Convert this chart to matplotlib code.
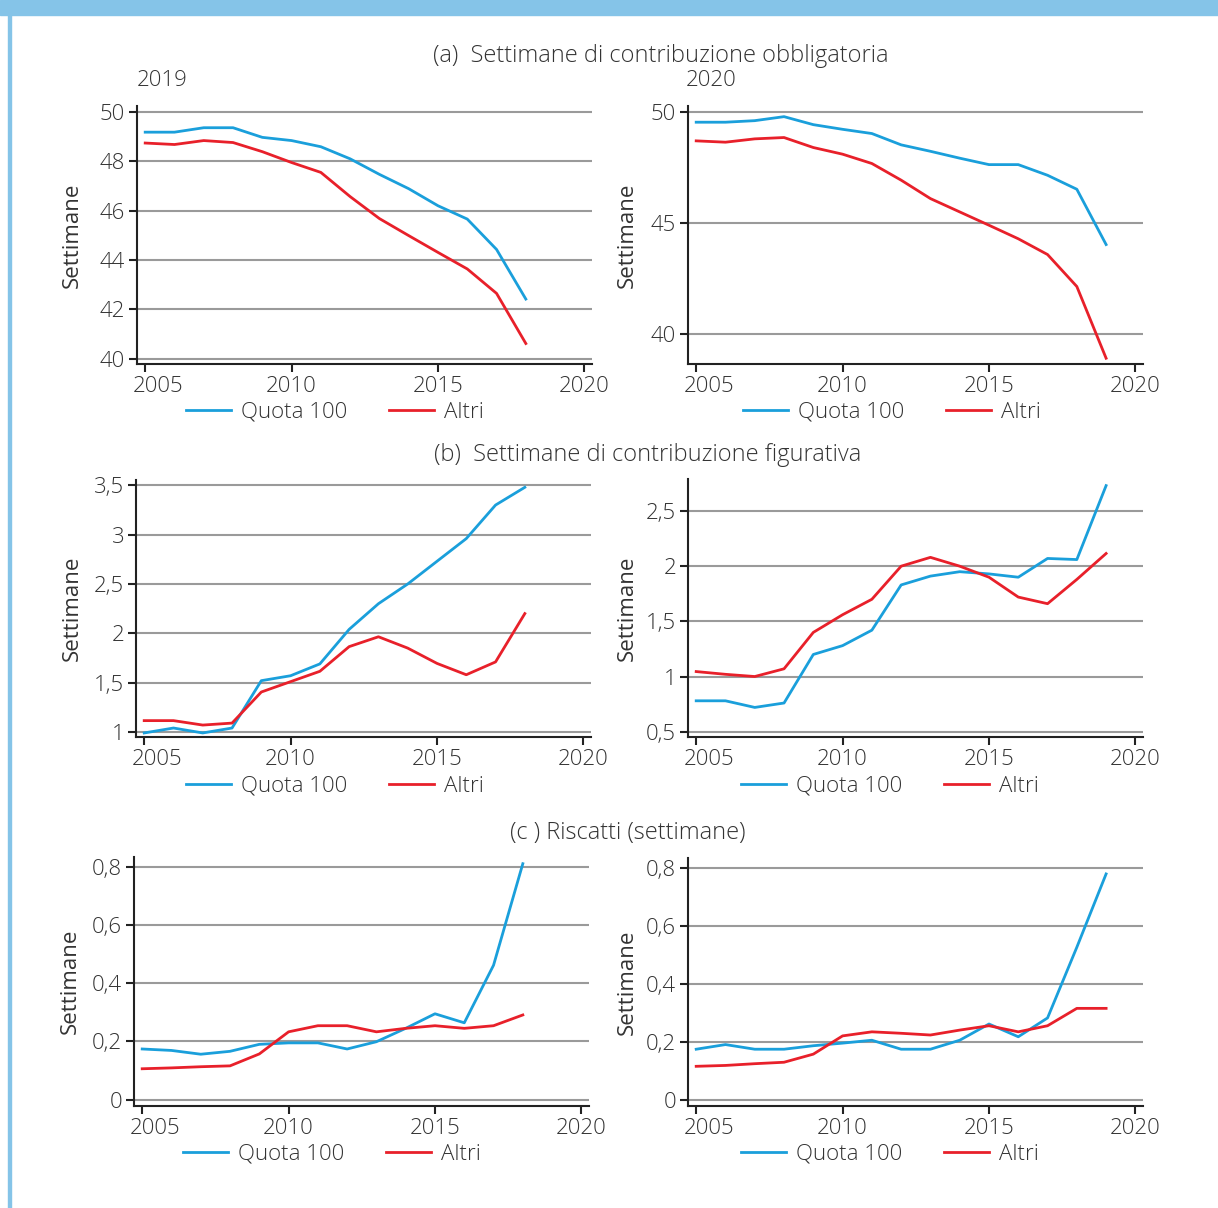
import matplotlib.pyplot as plt
import matplotlib.transforms as mtransforms
from matplotlib.patches import Rectangle

plt.rcParams["font.family"] = ["Open Sans", "DejaVu Sans"]
plt.rcParams["font.weight"] = "light"

BLUE = "#1a9fdb"
RED = "#e8202a"
TXT = "#333333"
GRID = "#9a9a9a"
FRAME = "#85c4e8"

years_19 = list(range(2005, 2019))
years_20 = list(range(2005, 2020))

# (a) contribuzione obbligatoria
obb_q100_19 = [49.18, 49.18, 49.36, 49.36, 48.97, 48.84, 48.59, 48.10, 47.47, 46.89, 46.20, 45.66, 44.43, 42.42]
obb_altri_19 = [48.74, 48.68, 48.84, 48.76, 48.39, 47.95, 47.55, 46.57, 45.68, 44.99, 44.31, 43.64, 42.65, 40.62]
obb_q100_20 = [49.54, 49.54, 49.61, 49.79, 49.43, 49.22, 49.03, 48.52, 48.23, 47.92, 47.63, 47.63, 47.15, 46.52, 44.03]
obb_altri_20 = [48.70, 48.64, 48.79, 48.85, 48.40, 48.10, 47.68, 46.93, 46.10, 45.50, 44.90, 44.29, 43.58, 42.14, 38.91]

# (b) contribuzione figurativa
fig_q100_19 = [0.99, 1.04, 0.99, 1.04, 1.52, 1.57, 1.69, 2.04, 2.30, 2.50, 2.73, 2.96, 3.30, 3.48]
fig_altri_19 = [1.115, 1.115, 1.07, 1.09, 1.405, 1.51, 1.615, 1.865, 1.965, 1.85, 1.695, 1.58, 1.71, 2.20]
fig_q100_20 = [0.78, 0.78, 0.72, 0.76, 1.20, 1.28, 1.42, 1.83, 1.91, 1.95, 1.93, 1.90, 2.07, 2.06, 2.73]
fig_altri_20 = [1.045, 1.02, 1.00, 1.07, 1.40, 1.56, 1.70, 2.00, 2.08, 2.00, 1.90, 1.72, 1.66, 1.88, 2.115]

# (c) riscatti
ris_q100_19 = [0.174, 0.169, 0.156, 0.166, 0.19, 0.195, 0.195, 0.174, 0.199, 0.245, 0.295, 0.264, 0.462, 0.811]
ris_altri_19 = [0.106, 0.109, 0.113, 0.116, 0.157, 0.233, 0.254, 0.254, 0.233, 0.245, 0.254, 0.245, 0.254, 0.291]
ris_q100_20 = [0.174, 0.19, 0.174, 0.174, 0.186, 0.195, 0.205, 0.174, 0.174, 0.205, 0.261, 0.217, 0.282, 0.526, 0.779]
ris_altri_20 = [0.115, 0.118, 0.124, 0.129, 0.157, 0.22, 0.234, 0.229, 0.223, 0.24, 0.255, 0.234, 0.255, 0.315, 0.315]

xticks = [2005, 2010, 2015, 2020]
yt_obb_19 = [40, 42, 44, 46, 48, 50]
yl_obb_19 = ["40", "42", "44", "46", "48", "50"]
yt_obb_20 = [40, 45, 50]
yl_obb_20 = ["40", "45", "50"]
yt_fig_19 = [1, 1.5, 2, 2.5, 3, 3.5]
yl_fig_19 = ["1", "1,5", "2", "2,5", "3", "3,5"]
yt_fig_20 = [0.5, 1, 1.5, 2, 2.5]
yl_fig_20 = ["0,5", "1", "1,5", "2", "2,5"]
yt_ris = [0, 0.2, 0.4, 0.6, 0.8]
yl_ris = ["0", "0,2", "0,4", "0,6", "0,8"]

FS = 16
fig = plt.figure(figsize=(12.18, 12.08), dpi=100)
W, H = 1218, 1208

# frame: top bar and left rule
fig.patches.append(Rectangle((0, 1 - 15 / H), 1, 15 / H, transform=fig.transFigure, color=FRAME, zorder=0))
fig.patches.append(Rectangle((8 / W, 0), 3 / W, 1 - 15 / H, transform=fig.transFigure, color=FRAME, zorder=0))


def panel(left, top, bottom, years, q, a, yt, yl, ylim, leg_x, leg_y, ylab_x):
    width = 455
    ax = fig.add_axes([left / W, 1 - bottom / H, width / W, (bottom - top) / H])
    for v in yt:
        ax.axhline(v, color=GRID, linewidth=1.5, zorder=1)
    ax.plot(years, q, color=BLUE, linewidth=2.0, zorder=3, label="Quota 100")
    ax.plot(years, a, color=RED, linewidth=2.0, zorder=3, label="Altri")
    ax.set_xlim(2004.72, 2020.26)
    ax.set_ylim(*ylim)
    ax.set_xticks(xticks)
    ax.set_yticks(yt)
    ax.set_yticklabels(yl)
    for s in ["top", "right"]:
        ax.spines[s].set_visible(False)
    for s in ["left", "bottom"]:
        ax.spines[s].set_color("#222222")
        ax.spines[s].set_linewidth(1.5)
    ax.tick_params(axis="both", colors="#222222", labelcolor=TXT, labelsize=FS,
                   length=5.5, width=1.5, pad=3)
    # first year label sits a little to the right of its tick
    lab = ax.get_xticklabels()[0]
    lab.set_transform(lab.get_transform() + mtransforms.ScaledTranslation(0.13, 0, fig.dpi_scale_trans))
    ax.set_ylabel("Settimane", fontsize=FS, color=TXT)
    ax.yaxis.set_label_coords((ylab_x - left) / width, 0.5)
    ax.legend(loc="center", bbox_to_anchor=(leg_x / W, 1 - leg_y / H),
              bbox_transform=fig.transFigure, ncol=2, frameon=False, fontsize=FS,
              handlelength=2.0, handletextpad=0.45, columnspacing=1.9, labelcolor=TXT)
    return ax


panel(137, 106, 364, years_19, obb_q100_19, obb_altri_19, yt_obb_19, yl_obb_19, (39.79, 50.24), 335, 412, 83)
panel(688, 106, 364, years_20, obb_q100_20, obb_altri_20, yt_obb_20, yl_obb_20, (38.65, 50.27), 892, 412, 638)
panel(136, 480, 737, years_19, fig_q100_19, fig_altri_19, yt_fig_19, yl_fig_19, (0.949, 3.554), 335, 786, 83)
panel(688, 479, 737, years_20, fig_q100_20, fig_altri_20, yt_fig_20, yl_fig_20, (0.452, 2.79), 890, 786, 638)
panel(134, 857, 1106, years_19, ris_q100_19, ris_altri_19, yt_ris, yl_ris, (-0.022, 0.834), 332, 1154, 81)
panel(688, 858, 1106, years_20, ris_q100_20, ris_altri_20, yt_ris, yl_ris, (-0.022, 0.834), 890, 1154, 638)

fig.text(661 / W, 1 - 56 / H, "(a)  Settimane di contribuzione obbligatoria", ha="center", va="center", fontsize=17, color=TXT)
fig.text(137 / W, 1 - 80 / H, "2019", ha="left", va="center", fontsize=FS, color=TXT)
fig.text(686 / W, 1 - 80 / H, "2020", ha="left", va="center", fontsize=FS, color=TXT)
fig.text(648 / W, 1 - 455 / H, "(b)  Settimane di contribuzione figurativa", ha="center", va="center", fontsize=17, color=TXT)
fig.text(628 / W, 1 - 833 / H, "(c ) Riscatti (settimane)", ha="center", va="center", fontsize=17, color=TXT)

fig.savefig("out.png", dpi=100)
